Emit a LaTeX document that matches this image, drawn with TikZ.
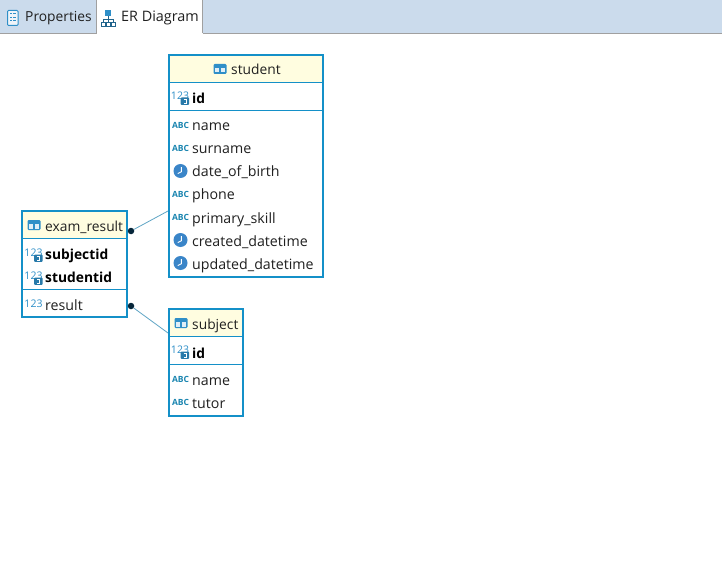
\documentclass[tikz,border=0pt]{standalone}
\usepackage{fontspec}
\setmainfont{Open Sans}
\definecolor{tabbar}{HTML}{CBDBEC}
\definecolor{tabline}{HTML}{A0A0A0}
\definecolor{tblblue}{HTML}{1490C8}
\definecolor{headfill}{HTML}{FFFDE0}
\definecolor{connblue}{HTML}{5FA5C5}
\definecolor{icoblue}{HTML}{2F8FC8}
\definecolor{clockblue}{HTML}{3A85C8}
\definecolor{abcblue}{HTML}{1A85B0}
\definecolor{txt}{HTML}{202020}
\definecolor{dotc}{HTML}{06263A}
\tikzset{
  x=1pt,y=-1pt,
  tablebox/.style={draw=tblblue,line width=2.4pt,inner sep=0pt,rectangle},
  headband/.style={fill=headfill,draw=none},
  rowline/.style={draw=tblblue,line width=1pt},
  conn/.style={draw=connblue,line width=0.8pt},
  enddot/.style={circle,fill=dotc,draw=none,inner sep=0pt,minimum size=6.5pt},
  lbl/.style={anchor=base west,inner sep=0pt,text=txt,font=\fontsize{14.2}{16}\selectfont},
  keylbl/.style={lbl,text=black,font=\fontsize{13.8}{16}\selectfont\bfseries},
  ttl/.style={lbl,font=\fontsize{13.8}{16}\selectfont},
  tinylbl/.style={anchor=center,inner sep=0pt},
  tabicon/.pic={
    \fill[rounded corners=1.2pt,fill=icoblue] (-6.5,-5) rectangle (6.5,5);
    \fill[white!85!icoblue] (-5,-1) rectangle (-0.6,3.5);
    \fill[white!85!icoblue] (0.6,-1) rectangle (5,3.5);
  },
  clockicon/.pic={
    \fill[clockblue] (0,0) circle (7pt);
    \draw[white,line width=0.9pt] (0.8,-3.8) -- (0.8,0.8) -- (-2.8,2.6);
  },
  abcicon/.pic={
    \node[tinylbl,text=abcblue,font=\fontsize{8.5}{8}\selectfont\bfseries] at (0,0) {ABC};
  },
  numicon/.pic={
    \node[tinylbl,text=icoblue,font=\fontsize{10.5}{10}\selectfont] at (0,0) {123};
  },
  keyicon/.pic={
    \node[tinylbl,text=icoblue,font=\fontsize{10.5}{10}\selectfont] at (1,-1.5) {123};
    \fill[rounded corners=0.8pt,fill=icoblue!85!black] (1.7,0.5) rectangle (10,7.8);
    \draw[white,line width=0.7pt] (4.5,2.2) -- (7,2.2) -- (7,6) -- (4.5,6);
  },
}
\newcommand{\abcrow}[3]{\pic at (180.5,#1) {abcicon}; \node[lbl] (#3) at (192,#1+6) {#2};}
\newcommand{\clockrow}[3]{\pic at (180.5,#1) {clockicon}; \node[lbl] (#3) at (192,#1+6) {#2};}
\begin{document}
\begin{tikzpicture}
\useasboundingbox (0,0) rectangle (722,572);
\fill[white] (0,0) rectangle (722,572);
% tab bar
\fill[tabbar] (0,0) rectangle (722,33);
\draw[tabline,line width=1pt] (0,33.5) -- (97,33.5);
\draw[tabline,line width=1pt] (202.5,33.5) -- (722,33.5);
\fill[white] (97,0) rectangle (202,34);
\draw[tabline,line width=1pt] (96.5,0) -- (96.5,33.5);
\draw[tabline,line width=1pt] (202.5,0) -- (202.5,33.5);
% Properties icon
\draw[icoblue,line width=1pt,fill=white!70!tabbar,rounded corners=1pt] (7.5,10.5) rectangle (18,25.5);
\foreach \yy in {14,17.5,21}{\draw[icoblue,line width=1pt] (10,\yy) -- (11.5,\yy); \draw[icoblue,line width=1pt] (13,\yy) -- (16,\yy);}
\node[lbl,font=\fontsize{13.8}{16}\selectfont] (tabprop) at (25,22) {Properties};
% ER icon
\fill[icoblue] (105,10) rectangle (111,16);
\draw[icoblue!70!black,line width=0.8pt] (108,16) -- (108,19) (103,22) -- (103,19) -- (113,19) -- (113,22) (108,19) -- (108,22);
\foreach \xx in {101,106,111}{\draw[icoblue!70!black,line width=0.8pt,fill=white] (\xx,22) rectangle (\xx+4.5,26);}
\node[lbl,font=\fontsize{14.4}{16}\selectfont] (taber) at (121,22) {ER Diagram};
% tables
\node[tablebox,anchor=north west,minimum width=154pt,minimum height=222pt] (student) at (167.8,53.8) {};
\node[tablebox,anchor=north west,minimum width=105pt,minimum height=106pt] (exam) at (20.8,209.8) {};
\node[tablebox,anchor=north west,minimum width=74pt,minimum height=107pt] (subject) at (167.8,307.8) {};
% connectors
\node[enddot] (d1) at (131,231) {};
\node[enddot] (d2) at (131,306) {};
\coordinate (c1) at (168,211);
\coordinate (c2) at (168,333);
\draw[conn] (d1) -- (c1);
\draw[conn] (d2) -- (c2);
% student
\fill[headband] (170.2,56.2) rectangle (321.8,82);
\draw[rowline] (169,82.5) -- (323,82.5);
\draw[rowline] (169,110.5) -- (323,110.5);
\pic at (220,69) {tabicon};
\node[ttl] (ts) at (231,75) {student};
\pic at (179,97) {keyicon};
\node[keylbl] (sid) at (192,104) {id};
\abcrow{125}{name}{s1}
\abcrow{148}{surname}{s2}
\clockrow{171}{date\_of\_birth}{s3}
\abcrow{194}{phone}{s4}
\abcrow{217}{primary\_skill}{s5}
\clockrow{240}{created\_datetime}{s6}
\clockrow{263}{updated\_datetime}{s7}
% exam_result
\fill[headband] (23.2,212.2) rectangle (125.8,238);
\draw[rowline] (22,238.5) -- (127,238.5);
\draw[rowline] (22,289.5) -- (127,289.5);
\pic at (34,225) {tabicon};
\node[ttl] (te) at (45,231) {exam\_result};
\pic at (32.5,254) {keyicon};
\node[keylbl] (e1) at (45,259) {subjectid};
\pic at (32.5,277) {keyicon};
\node[keylbl] (e2) at (45,282) {studentid};
\pic at (33.5,303.5) {numicon};
\node[lbl] (e3) at (45,310) {result};
% subject
\fill[headband] (170.2,310.2) rectangle (241.8,336);
\draw[rowline] (169,336.5) -- (243,336.5);
\draw[rowline] (169,364.5) -- (243,364.5);
\pic at (181,323) {tabicon};
\node[ttl] (tj) at (192,329) {subject};
\pic at (179,351) {keyicon};
\node[keylbl] (jid) at (192,358) {id};
\abcrow{379}{name}{j1}
\abcrow{402}{tutor}{j2}
\end{tikzpicture}
\end{document}
